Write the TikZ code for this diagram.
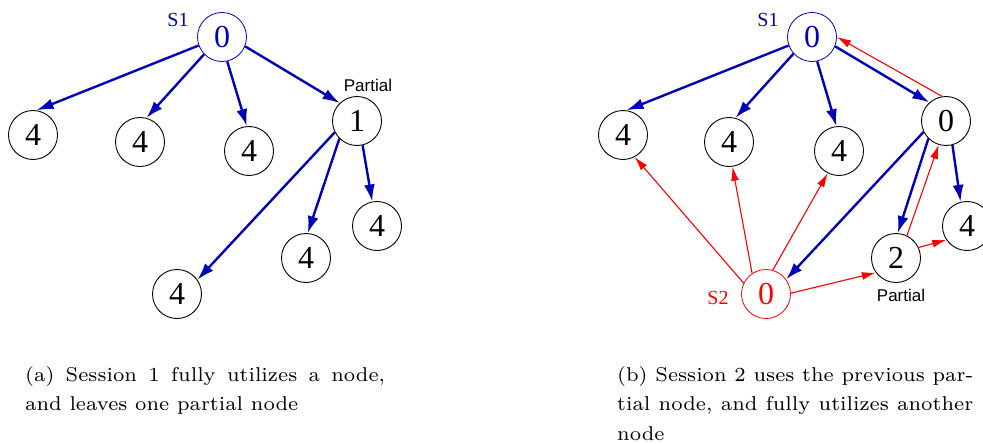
\documentclass[tikz,border=0pt]{standalone}
\usepackage{fontspec}
\newfontfamily\numfont{Liberation Serif}
\newfontfamily\labfont{Liberation Sans}
\newfontfamily\capfont{lmroman7-regular}[Extension=.otf]
\usetikzlibrary{arrows.meta}
\definecolor{dblue}{RGB}{0,0,185}
\tikzset{
  vtx/.style={circle,draw=black,line width=0.9pt,minimum size=49pt,inner sep=0pt,font=\numfont\fontsize{32}{32}\selectfont},
  srcb/.style={vtx,draw=dblue,line width=0.8pt,text=dblue},
  srcr/.style={vtx,draw=red,line width=0.8pt,text=red},
  bedge/.style={draw=dblue,line width=2.4pt,-{Latex[length=17pt,width=11pt]}},
  redge/.style={draw=red,line width=1.1pt,-{Latex[length=14pt,width=8pt]}},
  slab/.style={font=\numfont\fontsize{20}{20}\selectfont},
  plab/.style={font=\labfont\fontsize{17}{17}\selectfont},
  captext/.style={anchor=base west,inner sep=0pt}
}
\newcommand{\capstyle}{\capfont\fontsize{20}{29.5}\selectfont}
\begin{document}
\begin{tikzpicture}[x=1pt,y=-1pt]
\useasboundingbox (0,0) rectangle (983,444);
% ---------- (a) ----------
\node[srcb] (ar) at (222,37) {0};
\node[slab,text=dblue] (as1) at (178,20) {S1};
\node[vtx] (aa) at (33,135) {4};
\node[vtx] (ab) at (140,142) {4};
\node[vtx] (ac) at (249,151) {4};
\node[vtx] (ap) at (357,121) {1};
\node[plab] (apl) at (368,85) {Partial};
\node[vtx] (ad) at (377,226) {4};
\node[vtx] (ae) at (306,258) {4};
\node[vtx] (af) at (177,294) {4};
\path[bedge] (ar.200) -- (aa.82);
\path[bedge] (ar.224) -- (ab.75);
\path[bedge] (ar.-78) -- (ac.95);
\path[bedge] (ar.-22) -- (ap.134);
\path[bedge] (ap.-77) -- (ad.101);
\path[bedge] (ap.225) -- (ae.86);
\path[bedge] (ap.207) -- (af.35);
\node[captext] (capa) at (25,381) {\parbox[t]{360pt}{\capstyle (a) Session 1 fully utilizes a node,\linebreak and leaves one partial node}};
% ---------- (b) ----------
\node[srcb] (br) at (812,37) {0};
\node[slab,text=dblue] (bs1) at (768,20) {S1};
\node[vtx] (ba) at (623,135) {4};
\node[vtx] (bb) at (729,142) {4};
\node[vtx] (bc) at (839,151) {4};
\node[vtx] (bp) at (946,121) {0};
\node[vtx] (bd) at (967,226) {4};
\node[vtx] (be) at (896,258) {2};
\node[plab] (bpl) at (901,295) {Partial};
\node[srcr] (bs) at (766,294) {0};
\node[slab,text=red] (bs2) at (718,298) {S2};
\path[bedge] (br.200) -- (ba.82);
\path[bedge] (br.222) -- (bb.75);
\path[bedge] (br.-78) -- (bc.96);
\path[bedge] (br.-22) -- (bp.132);
\path[bedge] (bp.-75) -- (bd.105);
\path[bedge] (bp.225) -- (be.86);
\path[bedge] (bp.206) -- (bs.36);
\path[redge] (bs.154) -- (ba.-62);
\path[redge] (bs.124) -- (bb.-82);
\path[redge] (bs.74) -- (bc.-117);
\path[redge] (bs.2) -- (be.216);
\path[redge] (be.25) -- (bd.214);
\path[redge] (be.64) -- (bp.253);
\path[redge] (bp.99) -- (br.0);
\node[captext] (capb) at (617,381) {\parbox[t]{356pt}{\capstyle (b) Session 2 uses the previous par-\linebreak tial node, and fully utilizes another\linebreak node}};
\end{tikzpicture}
\end{document}
